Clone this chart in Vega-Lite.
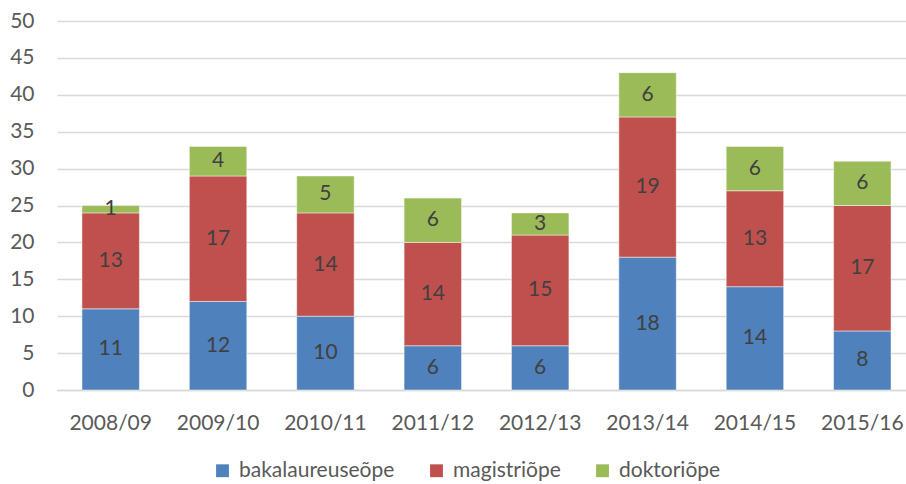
{
  "$schema": "https://vega.github.io/schema/vega-lite/v6.json",
  "width": 859,
  "height": 369,
  "autosize": {"type": "none"},
  "padding": {"left": 57, "top": 21, "right": 0, "bottom": 94},
  "background": "white",
  "config": {
    "font": "Lato",
    "view": {"stroke": null},
    "axis": {"labelFont": "Lato", "labelColor": "#595959", "labelFontSize": 21, "ticks": false}
  },
  "data": {
    "values": [
      {"aasta": "2008/09", "tase": "bakalaureuseõpe", "arv": 11},
      {"aasta": "2008/09", "tase": "magistriõpe", "arv": 13},
      {"aasta": "2008/09", "tase": "doktoriõpe", "arv": 1},
      {"aasta": "2009/10", "tase": "bakalaureuseõpe", "arv": 12},
      {"aasta": "2009/10", "tase": "magistriõpe", "arv": 17},
      {"aasta": "2009/10", "tase": "doktoriõpe", "arv": 4},
      {"aasta": "2010/11", "tase": "bakalaureuseõpe", "arv": 10},
      {"aasta": "2010/11", "tase": "magistriõpe", "arv": 14},
      {"aasta": "2010/11", "tase": "doktoriõpe", "arv": 5},
      {"aasta": "2011/12", "tase": "bakalaureuseõpe", "arv": 6},
      {"aasta": "2011/12", "tase": "magistriõpe", "arv": 14},
      {"aasta": "2011/12", "tase": "doktoriõpe", "arv": 6},
      {"aasta": "2012/13", "tase": "bakalaureuseõpe", "arv": 6},
      {"aasta": "2012/13", "tase": "magistriõpe", "arv": 15},
      {"aasta": "2012/13", "tase": "doktoriõpe", "arv": 3},
      {"aasta": "2013/14", "tase": "bakalaureuseõpe", "arv": 18},
      {"aasta": "2013/14", "tase": "magistriõpe", "arv": 19},
      {"aasta": "2013/14", "tase": "doktoriõpe", "arv": 6},
      {"aasta": "2014/15", "tase": "bakalaureuseõpe", "arv": 14},
      {"aasta": "2014/15", "tase": "magistriõpe", "arv": 13},
      {"aasta": "2014/15", "tase": "doktoriõpe", "arv": 6},
      {"aasta": "2015/16", "tase": "bakalaureuseõpe", "arv": 8},
      {"aasta": "2015/16", "tase": "magistriõpe", "arv": 17},
      {"aasta": "2015/16", "tase": "doktoriõpe", "arv": 6}
    ]
  },
  "transform": [
    {"calculate": "indexof(['bakalaureuseõpe','magistriõpe','doktoriõpe'], datum.tase)", "as": "ord"},
    {"stack": "arv", "groupby": ["aasta"], "sort": [{"field": "ord", "order": "ascending"}], "as": ["y0", "y1"]},
    {"calculate": "(datum.y0 + datum.y1) / 2", "as": "mid"}
  ],
  "encoding": {
    "x": {
      "field": "aasta", "type": "nominal", "title": null,
      "scale": {"paddingInner": 0.465, "paddingOuter": 0.2325},
      "axis": {"labelAngle": 0, "domainColor": "#d9d9d9", "domainWidth": 1.5, "labelBaseline": "alphabetic", "labelPadding": 39}
    }
  },
  "layer": [
    {
      "mark": {"type": "bar", "stroke": "white", "strokeWidth": 0.8, "strokeOpacity": 0.6},
      "encoding": {
        "y": {
          "field": "y1", "type": "quantitative", "title": null,
          "scale": {"domain": [0, 50], "nice": false},
          "axis": {"values": [0, 5, 10, 15, 20, 25, 30, 35, 40, 45, 50], "labelOverlap": false, "domain": false, "gridColor": "#d9d9d9", "gridWidth": 1.5, "labelPadding": 23}
        },
        "y2": {"field": "y0"},
        "color": {
          "field": "tase", "type": "nominal", "title": null,
          "scale": {"domain": ["bakalaureuseõpe", "magistriõpe", "doktoriõpe"], "range": ["#4F81BD", "#C0504D", "#9BBB59"]},
          "legend": {
            "orient": "none", "direction": "horizontal", "legendX": 155, "legendY": 439,
            "symbolType": "square", "symbolSize": 165, "symbolStrokeWidth": 0,
            "labelFont": "Lato", "labelFontSize": 21, "labelColor": "#595959", "labelOffset": 6,
            "columnPadding": 31, "padding": 0
          }
        }
      }
    },
    {
      "mark": {"type": "text", "font": "Lato", "fontSize": 21, "color": "#404040", "baseline": "middle"},
      "encoding": {
        "y": {
          "field": "mid", "type": "quantitative", "title": null,
          "scale": {"domain": [0, 50], "nice": false},
          "axis": {"values": [0, 5, 10, 15, 20, 25, 30, 35, 40, 45, 50], "labelOverlap": false, "domain": false, "gridColor": "#d9d9d9", "gridWidth": 1.5, "labelPadding": 23}
        },
        "text": {"field": "arv", "type": "quantitative"}
      }
    }
  ]
}
